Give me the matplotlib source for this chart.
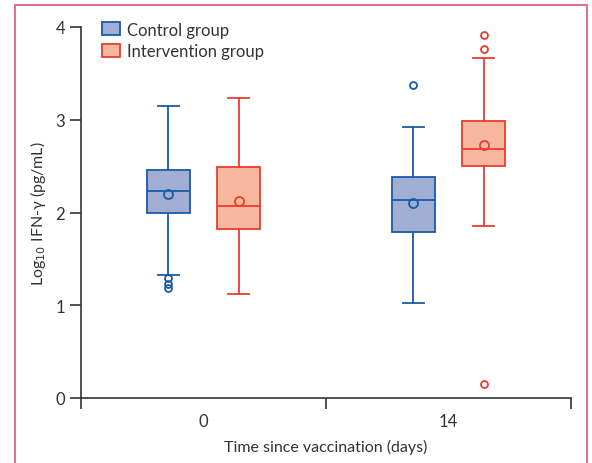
import matplotlib.pyplot as plt
from matplotlib.patches import Patch, Rectangle

plt.rcParams['font.family'] = ['Lato', 'DejaVu Sans']

days = ['0', '14']
groups = ['Control group', 'Intervention group']

# box summaries: [day 0, day 14]
ctrl_whislo = [1.33, 1.02]
ctrl_q1 = [1.99, 1.79]
ctrl_med = [2.23, 2.13]
ctrl_q3 = [2.46, 2.38]
ctrl_whishi = [3.15, 2.92]
ctrl_mean = [2.20, 2.10]
ctrl_fliers = [[1.29, 1.23, 1.19], [3.37]]

int_whislo = [1.12, 1.85]
int_q1 = [1.82, 2.50]
int_med = [2.07, 2.69]
int_q3 = [2.49, 2.99]
int_whishi = [3.23, 3.67]
int_mean = [2.12, 2.73]
int_fliers = [[], [3.91, 3.76, 0.15]]

blue, blue_fill = '#1a5aa6', '#a0aed4'
red, red_fill = '#ee3b30', '#f8b89f'
txt = '#333333'


def make_stats(lo, q1, med, q3, hi, mean, fl):
    return [dict(whislo=lo[i], q1=q1[i], med=med[i], q3=q3[i], whishi=hi[i],
                 mean=mean[i], fliers=fl[i]) for i in range(len(lo))]


fig = plt.figure(figsize=(5.92, 4.64), dpi=100)
ax = fig.add_axes([81 / 592, 1 - 399 / 464, 490 / 592, 371 / 464])

offs = 0.143
w = 0.175
for stats, col, fill, sh in [
        (make_stats(ctrl_whislo, ctrl_q1, ctrl_med, ctrl_q3, ctrl_whishi, ctrl_mean, ctrl_fliers), blue, blue_fill, -offs),
        (make_stats(int_whislo, int_q1, int_med, int_q3, int_whishi, int_mean, int_fliers), red, red_fill, offs)]:
    ax.bxp(stats, positions=[i + sh for i in range(len(days))], widths=w,
           patch_artist=True, showmeans=True, manage_ticks=False,
           boxprops=dict(facecolor=fill, edgecolor=col, linewidth=1.3),
           medianprops=dict(color=col, linewidth=1.3),
           whiskerprops=dict(color=col, linewidth=1.3),
           capprops=dict(color=col, linewidth=1.3),
           capwidths=w * 0.5,
           meanprops=dict(marker='o', markerfacecolor='none', markeredgecolor=col,
                          markersize=6.5, markeredgewidth=1.3),
           flierprops=dict(marker='o', markerfacecolor='none', markeredgecolor=col,
                           markersize=5, markeredgewidth=1.3))

ax.set_xlim(-0.5, 1.5)
ax.set_ylim(0, 4)
ax.set_yticks([0, 1, 2, 3, 4])
ax.set_xticks(range(len(days)))
ax.set_xticklabels(days)
ax.set_xticks([-0.5, 0.5, 1.5], minor=True)
ax.tick_params(axis='x', which='major', length=0, pad=11, labelsize=12, colors=txt)
ax.tick_params(axis='x', which='minor', length=8, width=1.2, color=txt)
ax.tick_params(axis='y', length=8, width=1.2, labelsize=12, colors=txt)
for s in ['top', 'right']:
    ax.spines[s].set_visible(False)
for s in ['left', 'bottom']:
    ax.spines[s].set_linewidth(1.2)
    ax.spines[s].set_color(txt)

ax.set_ylabel('Log$_{10}$ IFN-γ (pg/mL)', fontsize=11.5, color=txt, labelpad=5)
ax.set_xlabel('Time since vaccination (days)', fontsize=11.5, color=txt, labelpad=7)

handles = [Patch(facecolor=blue_fill, edgecolor=blue, linewidth=1.3),
           Patch(facecolor=red_fill, edgecolor=red, linewidth=1.3)]
ax.legend(handles, groups, loc='upper left', bbox_to_anchor=(0.012, 1.055),
          frameon=False, fontsize=12, handlelength=1.1, handleheight=0.8,
          handletextpad=0.4, labelspacing=0.35, labelcolor=txt)

fig.patches.append(Rectangle((15 / 592, -0.1), 572 / 592, 1.1 - 6 / 464,
                             transform=fig.transFigure, fill=False,
                             edgecolor='#d9758f', linewidth=1.5))

plt.savefig('out.png', dpi=100)
